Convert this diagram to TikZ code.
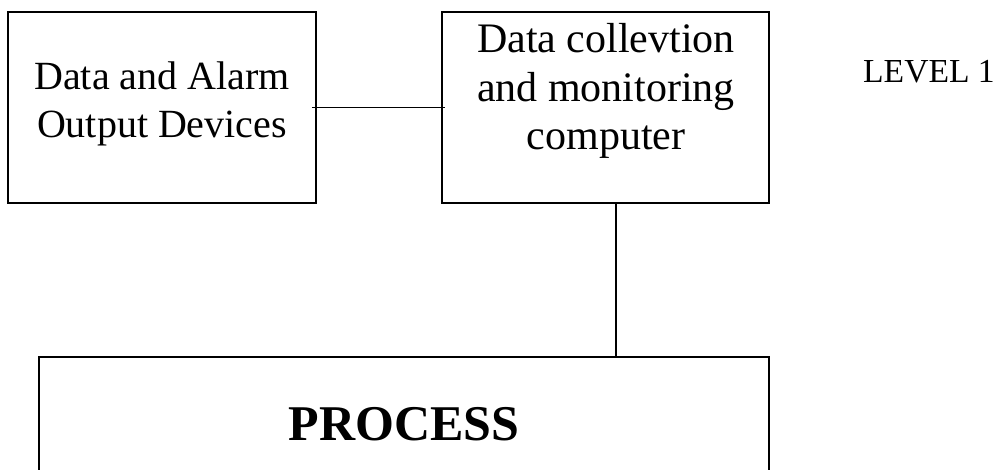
\documentclass[tikz,border=0pt]{standalone}
\usepackage{fontspec}
\setmainfont{Liberation Serif}
\begin{document}
\begin{tikzpicture}[x=1pt,y=1pt,
  box/.style={draw=black,line width=1.6pt,rectangle,inner sep=0pt},
  boxtext/.style={inner sep=0pt,align=center},
  link/.style={draw=black,line width=1.5pt}]
\useasboundingbox (0,0) rectangle (995,469);
% boxes
\node[box,minimum width=308pt,minimum height=191pt] (L) at (162,361.5) {};
\node[box,minimum width=327pt,minimum height=191pt] (R) at (605.5,361.5) {};
\node[box,minimum width=730pt,minimum height=142pt] (P) at (404,41) {};
% texts
\node[boxtext,anchor=north,font=\fontsize{40}{48}\selectfont] (Lt) at (162,407.3) {Data and Alarm\\Output Devices};
\node[boxtext,anchor=north,font=\fontsize{42}{48.5}\selectfont] (Rt) at (606,445.7) {Data collevtion\\and monitoring\\computer};
\node[inner sep=0pt,anchor=base,font=\fontsize{50}{60}\selectfont\bfseries] (Pt) at (404,29) {PROCESS};
\node[inner sep=0pt,anchor=base west,font=\fontsize{33.6}{40}\selectfont] (lvl) at (863,386) {LEVEL 1};
% connectors
\draw[link] ([xshift=-5pt]L.east) -- ([xshift=4pt]R.west);
\draw[link] ([xshift=10.5pt]R.south) -- ([xshift=10.5pt]R.south |- P.north);
\end{tikzpicture}
\end{document}
